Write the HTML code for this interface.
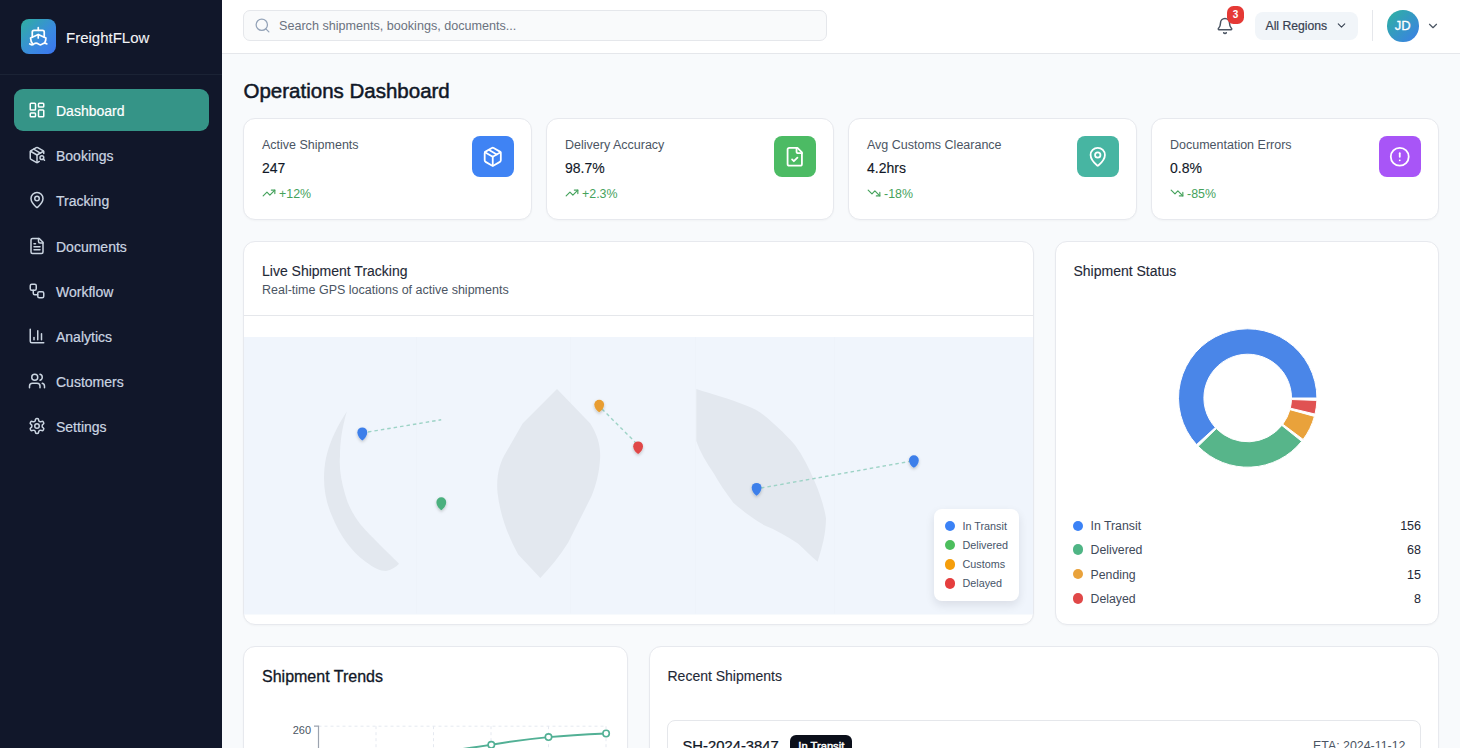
<!DOCTYPE html>
<html><head><meta charset="utf-8">
<style>
*{box-sizing:border-box;margin:0;padding:0}
html,body{width:1460px;height:748px;overflow:hidden}
body{font-family:"Liberation Sans",sans-serif;background:#f8fafc;position:relative;color:#111827}
.abs{position:absolute}
svg.i{fill:none;stroke:currentColor;stroke-width:2;stroke-linecap:round;stroke-linejoin:round}
#side{position:absolute;left:0;top:0;width:222px;height:748px;background:#11172a}
#side .hd{position:absolute;left:0;top:0;width:222px;height:75px;border-bottom:1px solid #1b2335}
.logo{position:absolute;left:20.5px;top:18.5px;width:35.5px;height:35.5px;border-radius:8px;background:linear-gradient(135deg,#2fb0a0 0%,#3a8ae0 60%,#3b74ef 100%)}
.brand{position:absolute;left:66px;top:29px;font-size:15px;line-height:18px;color:#f3f4f6;white-space:nowrap;-webkit-text-stroke:0.1px #f3f4f6}
.nav{position:absolute;left:14px;width:194.5px;height:42px;border-radius:9px;color:#cbd5e1;font-size:14px}
.nav.act{background:#359487;color:#fff}
.nav svg{position:absolute;left:13.5px;top:12px;width:18px;height:18px}
.nav span{position:absolute;left:42px;top:14px;line-height:16px;white-space:nowrap;-webkit-text-stroke:0.2px currentColor}
#top{position:absolute;left:222px;top:0;width:1238px;height:54px;background:#fff;border-bottom:1px solid #e5e7eb}
.search{position:absolute;left:21px;top:10px;width:584px;height:30.5px;border:1px solid #e5e7eb;border-radius:7px;background:#f9fafb}
.search svg{position:absolute;left:10px;top:5.5px;width:17px;height:17px;color:#94a3b8;stroke-width:1.8}
.search span{position:absolute;left:35px;top:8px;font-size:12.6px;line-height:14px;color:#6b7280;white-space:nowrap}
.card{position:absolute;background:#fff;border:1px solid #e7e9ee;border-radius:12px;box-shadow:0 1px 2px rgba(15,23,42,0.03)}
.stat .lbl{position:absolute;left:18px;top:18px;font-size:12.5px;line-height:16px;color:#4b5563;white-space:nowrap}
.stat .val{position:absolute;left:18px;top:40px;font-size:14px;line-height:18px;color:#111827;white-space:nowrap;-webkit-text-stroke:0.12px #111827}
.stat .chg{position:absolute;left:18px;top:67px;font-size:12.4px;line-height:14px;color:#45a25c;white-space:nowrap}
.stat .chg svg{width:14px;height:14px;vertical-align:-2px;margin-right:3px}
.stat .ib{position:absolute;right:17.5px;top:17px;width:41.3px;height:41.3px;border-radius:8px;color:#fff}
.stat .ib svg{position:absolute;left:9.9px;top:9.9px;width:21.5px;height:21.5px}
.ttl{position:absolute;font-size:14px;line-height:16px;color:#1f2937;white-space:nowrap;-webkit-text-stroke:0.12px #1f2937}
.sub{position:absolute;font-size:12.5px;line-height:14px;color:#4b5563;white-space:nowrap}
.lg{position:absolute;font-size:10.8px;color:#475569;white-space:nowrap}
.dot{position:absolute;border-radius:50%}
.lg2{position:absolute;left:34.5px;font-size:12.3px;line-height:16px;color:#3f4a5a;white-space:nowrap}
.vl{position:absolute;right:17px;font-size:12.5px;line-height:16px;color:#1f2937;white-space:nowrap;-webkit-text-stroke:0.05px #1f2937}
</style></head>
<body>
<div id="side">
  <div class="hd">
    <div class="logo">
      <svg class="i" viewBox="0 0 24 24" style="position:absolute;left:7.5px;top:7.5px;width:20.5px;height:20.5px;color:#fff;stroke-width:2">
        <path d="M2 21c.6.5 1.2 1 2.5 1 2.5 0 2.5-2 5-2 1.3 0 1.9.5 2.5 1 .6.5 1.2 1 2.5 1 2.5 0 2.5-2 5-2 1.3 0 1.9.5 2.5 1"/>
        <path d="M19.38 20A11.6 11.6 0 0 0 21 14l-9-4-9 4c0 2.9.94 5.34 2.81 7.76"/>
        <path d="M19 13V7a2 2 0 0 0-2-2H7a2 2 0 0 0-2 2v6"/>
        <path d="M12 10v4"/><path d="M12 2v3"/>
      </svg>
    </div>
    <div class="brand">FreightFLow</div>
  </div>
  <div class="nav act" style="top:89px">
    <svg class="i" viewBox="0 0 24 24"><rect width="7" height="9" x="3" y="3" rx="1"/><rect width="7" height="5" x="14" y="3" rx="1"/><rect width="7" height="9" x="14" y="12" rx="1"/><rect width="7" height="5" x="3" y="16" rx="1"/></svg>
    <span>Dashboard</span>
  </div>
  <div class="nav" style="top:134.2px">
    <svg class="i" viewBox="0 0 24 24"><path d="M21 10V8a2 2 0 0 0-1-1.73l-7-4a2 2 0 0 0-2 0l-7 4A2 2 0 0 0 3 8v8a2 2 0 0 0 1 1.73l7 4a2 2 0 0 0 2 0l2-1.14"/><path d="m7.5 4.27 9 5.15"/><polyline points="3.29 7 12 12 20.71 7"/><line x1="12" x2="12" y1="22" y2="12"/><circle cx="18.5" cy="15.5" r="2.5"/><path d="M20.27 17.27 22 19"/></svg>
    <span>Bookings</span>
  </div>
  <div class="nav" style="top:179.4px">
    <svg class="i" viewBox="0 0 24 24"><path d="M20 10c0 4.993-5.539 10.193-7.399 11.799a1 1 0 0 1-1.202 0C9.539 20.193 4 14.993 4 10a8 8 0 0 1 16 0"/><circle cx="12" cy="10" r="3"/></svg>
    <span>Tracking</span>
  </div>
  <div class="nav" style="top:224.6px">
    <svg class="i" viewBox="0 0 24 24"><path d="M15 2H6a2 2 0 0 0-2 2v16a2 2 0 0 0 2 2h12a2 2 0 0 0 2-2V7Z"/><path d="M14 2v4a2 2 0 0 0 2 2h4"/><path d="M10 9H8"/><path d="M16 13H8"/><path d="M16 17H8"/></svg>
    <span>Documents</span>
  </div>
  <div class="nav" style="top:269.8px">
    <svg class="i" viewBox="0 0 24 24"><rect width="8" height="8" x="3" y="3" rx="2"/><path d="M7 11v4a2 2 0 0 0 2 2h4"/><rect width="8" height="8" x="13" y="13" rx="2"/></svg>
    <span>Workflow</span>
  </div>
  <div class="nav" style="top:315px">
    <svg class="i" viewBox="0 0 24 24"><path d="M3 3v16a2 2 0 0 0 2 2h16"/><path d="M18 17V9"/><path d="M13 17V5"/><path d="M8 17v-3"/></svg>
    <span>Analytics</span>
  </div>
  <div class="nav" style="top:360.2px">
    <svg class="i" viewBox="0 0 24 24"><path d="M16 21v-2a4 4 0 0 0-4-4H6a4 4 0 0 0-4 4v2"/><circle cx="9" cy="7" r="4"/><path d="M22 21v-2a4 4 0 0 0-3-3.87"/><path d="M16 3.13a4 4 0 0 1 0 7.75"/></svg>
    <span>Customers</span>
  </div>
  <div class="nav" style="top:405.4px">
    <svg class="i" viewBox="0 0 24 24"><path d="M12.22 2h-.44a2 2 0 0 0-2 2v.18a2 2 0 0 1-1 1.73l-.43.25a2 2 0 0 1-2 0l-.15-.08a2 2 0 0 0-2.73.73l-.22.38a2 2 0 0 0 .73 2.73l.15.1a2 2 0 0 1 1 1.72v.51a2 2 0 0 1-1 1.74l-.15.09a2 2 0 0 0-.73 2.73l.22.38a2 2 0 0 0 2.730.73l.15-.08a2 2 0 0 1 2 0l.43.25a2 2 0 0 1 1 1.73V20a2 2 0 0 0 2 2h.44a2 2 0 0 0 2-2v-.18a2 2 0 0 1 1-1.73l.43-.25a2 2 0 0 1 2 0l.15.08a2 2 0 0 0 2.73-.73l.22-.39a2 2 0 0 0-.73-2.73l-.15-.08a2 2 0 0 1-1-1.74v-.5a2 2 0 0 1 1-1.74l.15-.09a2 2 0 0 0 .73-2.73l-.22-.38a2 2 0 0 0-2.73-.73l-.15.08a2 2 0 0 1-2 0l-.43-.25a2 2 0 0 1-1-1.73V4a2 2 0 0 0-2-2z"/><circle cx="12" cy="12" r="3"/></svg>
    <span>Settings</span>
  </div>
</div>

<div id="top">
  <div class="search">
    <svg class="i" viewBox="0 0 24 24"><circle cx="11" cy="11" r="8"/><path d="m21 21-4.3-4.3"/></svg>
    <span>Search shipments, bookings, documents...</span>
  </div>
  <svg class="i abs" viewBox="0 0 24 24" style="left:994px;top:16.5px;width:18px;height:18px;color:#4b5563"><path d="M10.268 21a2 2 0 0 0 3.464 0"/><path d="M3.262 15.326A1 1 0 0 0 4 17h16a1 1 0 0 0 .74-1.673C19.41 13.956 18 12.499 18 8A6 6 0 0 0 6 8c0 4.499-1.411 5.956-2.738 7.326"/></svg>
  <div class="abs" style="left:1005px;top:6.3px;width:17.2px;height:17.5px;border-radius:6.5px;background:#e53935;color:#fff;font-size:10px;font-weight:bold;line-height:18.5px;text-align:center">3</div>
  <div class="abs" style="left:1033px;top:12px;width:103px;height:27.5px;border-radius:8px;background:#f1f5f9">
    <span class="abs" style="left:10.5px;top:6.5px;font-size:12.2px;line-height:14px;color:#374151;white-space:nowrap;-webkit-text-stroke:0.2px #374151">All Regions</span>
    <svg class="i abs" viewBox="0 0 24 24" style="left:80px;top:7px;width:13px;height:13px;color:#374151"><path d="m6 9 6 6 6-6"/></svg>
  </div>
  <div class="abs" style="left:1150px;top:9.5px;width:1px;height:31px;background:#e5e7eb"></div>
  <div class="abs" style="left:1165px;top:10px;width:31.5px;height:31.5px;border-radius:50%;background:linear-gradient(135deg,#2eb3a0,#3b7de8);color:#fff;font-size:13px;line-height:31.5px;text-align:center;-webkit-text-stroke:0.3px #fff">JD</div>
  <svg class="i abs" viewBox="0 0 24 24" style="left:1203.5px;top:18.5px;width:14px;height:14px;color:#4b5563"><path d="m6 9 6 6 6-6"/></svg>
</div>

<!-- STAT CARDS -->
<div class="card stat" style="left:243px;top:118px;width:289px;height:102px">
  <div class="lbl">Active Shipments</div><div class="val">247</div>
  <div class="chg"><svg class="i" viewBox="0 0 24 24"><polyline points="22 7 13.5 15.5 8.5 10.5 2 17"/><polyline points="16 7 22 7 22 13"/></svg>+12%</div>
  <div class="ib" style="background:#3f83f4"><svg class="i" viewBox="0 0 24 24"><path d="M11 21.73a2 2 0 0 0 2 0l7-4A2 2 0 0 0 21 16V8a2 2 0 0 0-1-1.730l-7-4a2 2 0 0 0-2 0l-7 4A2 2 0 0 0 3 8v8a2 2 0 0 0 1 1.73z"/><path d="M12 22V12"/><path d="m3.3 7 8.7 5 8.7-5"/><path d="m7.5 4.27 9 5.15"/></svg></div>
</div>
<div class="card stat" style="left:546px;top:118px;width:288px;height:102px">
  <div class="lbl">Delivery Accuracy</div><div class="val">98.7%</div>
  <div class="chg"><svg class="i" viewBox="0 0 24 24"><polyline points="22 7 13.5 15.5 8.5 10.5 2 17"/><polyline points="16 7 22 7 22 13"/></svg>+2.3%</div>
  <div class="ib" style="background:#4cbb64"><svg class="i" viewBox="0 0 24 24"><path d="M15 2H6a2 2 0 0 0-2 2v16a2 2 0 0 0 2 2h12a2 2 0 0 0 2-2V7Z"/><path d="M14 2v4a2 2 0 0 0 2 2h4"/><path d="m9 15 2 2 4-4"/></svg></div>
</div>
<div class="card stat" style="left:848px;top:118px;width:289px;height:102px">
  <div class="lbl">Avg Customs Clearance</div><div class="val">4.2hrs</div>
  <div class="chg"><svg class="i" viewBox="0 0 24 24"><polyline points="22 17 13.5 8.5 8.5 13.5 2 7"/><polyline points="16 17 22 17 22 11"/></svg>-18%</div>
  <div class="ib" style="background:#47b5a2"><svg class="i" viewBox="0 0 24 24"><path d="M20 10c0 4.993-5.539 10.193-7.399 11.799a1 1 0 0 1-1.202 0C9.539 20.193 4 14.993 4 10a8 8 0 0 1 16 0"/><circle cx="12" cy="10" r="3"/></svg></div>
</div>
<div class="card stat" style="left:1151px;top:118px;width:288px;height:102px">
  <div class="lbl">Documentation Errors</div><div class="val">0.8%</div>
  <div class="chg"><svg class="i" viewBox="0 0 24 24"><polyline points="22 17 13.5 8.5 8.5 13.5 2 7"/><polyline points="16 17 22 17 22 11"/></svg>-85%</div>
  <div class="ib" style="background:#a855f7"><svg class="i" viewBox="0 0 24 24"><circle cx="12" cy="12" r="10"/><line x1="12" x2="12" y1="8" y2="12"/><line x1="12" x2="12.01" y1="16" y2="16"/></svg></div>
</div>

<!-- MAIN -->
<div class="abs" style="left:243.5px;top:80px;font-size:20.5px;line-height:22px;color:#111827;white-space:nowrap;-webkit-text-stroke:0.5px #111827">Operations Dashboard</div>


<!-- MAP CARD -->
<div class="card" style="left:243px;top:241px;width:791px;height:384px">
  <div class="ttl" style="left:18px;top:21px">Live Shipment Tracking</div>
  <div class="sub" style="left:18px;top:41px">Real-time GPS locations of active shipments</div>
  <div class="abs" style="left:0;top:73px;width:789px;height:1px;background:#e5e7eb"></div>
</div>
<svg class="abs" style="left:244px;top:337px;width:789px;height:277.5px" viewBox="244 337 789 277.5">
  <defs><filter id="sh" x="-50%" y="-50%" width="200%" height="220%"><feDropShadow dx="0" dy="1.5" stdDeviation="1.5" flood-color="#000" flood-opacity="0.22"/></filter></defs>
  <rect x="244" y="337" width="789" height="277.5" fill="#f0f5fc"/>
  <g stroke="#e6ebf2" stroke-width="1" opacity="0.18">
    <line x1="416.5" y1="337" x2="416.5" y2="613.5"/><line x1="570.5" y1="337" x2="570.5" y2="613.5"/>
    <line x1="695.5" y1="337" x2="695.5" y2="613.5"/><line x1="834.5" y1="337" x2="834.5" y2="613.5"/>
  </g>
  <g fill="#e3e8ef">
    <path d="M346.8 411.4C338 425 330 440 326 458C322 478 324 498 332 516C340 536 352 552 366 562C374 568 380 571 386 571C391 570 396 567 399 563.7C392 557 386 551 380 545C372 537 366 531 361 525C353 515 348 505 345 494C341 480 339 468 340 456C340 442 342 428 346.8 411.4Z"/>
    <path d="M557 389.1L590.3 423.5C598 436 601 447 600 460C599 474 596 485 591.8 495.6L568.2 542.6C560 556 550 568 540.3 578L518.2 554.4C508 536 500 515 497.5 492.6C496 475 500 462 506.5 451.5L522.6 423.5Z"/>
    <path d="M696.3 389C712 394 730 399 747.4 405.9C756 409 765 415 772.6 422.7C782 431 789 438 795.1 445.2C803 456 809 468 814.8 481.7C820 494 824 506 826 518.2C826 533 822 548 817.6 561.7C811 556 805 550 797.9 543.4C787 536 776 530 764.2 525.2C753 519 743 511 733.3 502.7C726 493 719 483 713.7 473.3C706 462 700 452 696.3 441Z"/>
  </g>
  <g stroke="#9dd3c6" stroke-width="1.4" stroke-dasharray="3.5 3" fill="none">
    <line x1="368" y1="432" x2="441.2" y2="419.8"/>
    <line x1="602" y1="409" x2="636" y2="443"/>
    <line x1="761" y1="488" x2="912" y2="461"/>
  </g>
  <path d="M362.30 440.60C359.70 439.00 357.40 435.50 357.40 432.30A4.9 4.9 0 0 1 367.20 432.30C367.20 435.50 364.90 439.00 362.30 440.60Z" fill="#3d7fea" filter="url(#sh)"/>
  <path d="M441.30 510.20C438.70 508.60 436.40 505.30 436.40 502.10A4.9 4.9 0 0 1 446.20 502.10C446.20 505.30 443.90 508.60 441.30 510.20Z" fill="#4bb07e" filter="url(#sh)"/>
  <path d="M599.20 412.30C596.60 410.70 594.30 407.80 594.30 404.60A4.9 4.9 0 0 1 604.10 404.60C604.10 407.80 601.80 410.70 599.20 412.30Z" fill="#e89d30" filter="url(#sh)"/>
  <path d="M638.10 453.90C635.50 452.30 633.20 449.50 633.20 446.30A4.9 4.9 0 0 1 643.00 446.30C643.00 449.50 640.70 452.30 638.10 453.90Z" fill="#e04646" filter="url(#sh)"/>
  <path d="M756.60 495.70C754.00 494.10 751.70 491.00 751.70 487.80A4.9 4.9 0 0 1 761.50 487.80C761.50 491.00 759.20 494.10 756.60 495.70Z" fill="#3d7fea" filter="url(#sh)"/>
  <path d="M913.90 467.80C911.30 466.20 909.00 463.40 909.00 460.20A4.9 4.9 0 0 1 918.80 460.20C918.80 463.40 916.50 466.20 913.90 467.80Z" fill="#3d7fea" filter="url(#sh)"/>
</svg>
<div class="abs" style="left:934.3px;top:509px;width:84.7px;height:92px;background:#fff;border-radius:8px;box-shadow:0 4px 10px rgba(15,23,42,0.10)">
  <div class="dot" style="left:10.3px;top:11.9px;width:10.6px;height:10.6px;background:#3b82f6"></div>
  <div class="dot" style="left:10.3px;top:30.8px;width:10.6px;height:10.6px;background:#4cbe5d"></div>
  <div class="dot" style="left:10.3px;top:50px;width:10.6px;height:10.6px;background:#f59e0b"></div>
  <div class="dot" style="left:10.3px;top:69.2px;width:10.6px;height:10.6px;background:#e53e3e"></div>
  <div class="lg" style="left:28.2px;top:11px">In Transit</div>
  <div class="lg" style="left:28.2px;top:30px">Delivered</div>
  <div class="lg" style="left:28.2px;top:49px">Customs</div>
  <div class="lg" style="left:28.2px;top:68px">Delayed</div>
</div>

<!-- DONUT CARD -->
<div class="card" style="left:1055px;top:241px;width:384px;height:384px">
  <div class="ttl" style="left:17.5px;top:21px">Shipment Status</div>
  <svg class="abs" style="left:-0.5px;top:-1px;width:383px;height:383.5px" viewBox="0 0 383 383.5">
    <g stroke="#fff" stroke-width="1">
    <path d="M260.90 157.00A69.2 69.2 0 1 0 140.53 203.59L159.31 186.49A43.8 43.8 0 1 1 235.50 157.00Z" fill="#4a86e8"/>
    <path d="M142.19 205.34A69.2 69.2 0 0 0 245.65 200.34L225.85 184.43A43.8 43.8 0 0 1 160.36 187.60Z" fill="#57b58a"/>
    <path d="M247.13 198.43A69.2 69.2 0 0 0 258.42 175.38L233.93 168.63A43.8 43.8 0 0 1 226.78 183.22Z" fill="#e9a23b"/>
    <path d="M259.02 173.04A69.2 69.2 0 0 0 260.86 159.42L235.47 158.53A43.8 43.8 0 0 1 234.31 167.15Z" fill="#e05252"/>
    </g>
  </svg>
  <div class="dot" style="left:16.9px;top:278.6px;width:10.2px;height:10.2px;background:#3b82f6"></div>
  <div class="dot" style="left:16.9px;top:302.4px;width:10.2px;height:10.2px;background:#4fb585"></div>
  <div class="dot" style="left:16.9px;top:326.8px;width:10.2px;height:10.2px;background:#e9a23b"></div>
  <div class="dot" style="left:16.9px;top:351.4px;width:10.2px;height:10.2px;background:#e04848"></div>
  <div class="lg2" style="top:276px">In Transit</div><div class="vl" style="top:276px">156</div>
  <div class="lg2" style="top:300px">Delivered</div><div class="vl" style="top:300px">68</div>
  <div class="lg2" style="top:324.5px">Pending</div><div class="vl" style="top:324.5px">15</div>
  <div class="lg2" style="top:349px">Delayed</div><div class="vl" style="top:349px">8</div>
</div>

<!-- TRENDS CARD -->
<div class="card" style="left:243px;top:646px;width:385px;height:200px">
  <div class="abs" style="left:18px;top:21px;font-size:16px;line-height:18px;color:#111827;white-space:nowrap;-webkit-text-stroke:0.3px #111827">Shipment Trends</div>
</div>
<svg class="abs" style="left:243.5px;top:646.3px;width:384px;height:110px" viewBox="243.5 646.3 384 110">
  <g stroke="#e5e9f0" stroke-width="1" stroke-dasharray="3 3" fill="none">
    <line x1="318" y1="726.5" x2="605.5" y2="726.5"/>
    <line x1="375.5" y1="726.5" x2="375.5" y2="760"/><line x1="433" y1="726.5" x2="433" y2="760"/>
    <line x1="490.5" y1="726.5" x2="490.5" y2="760"/><line x1="548" y1="726.5" x2="548" y2="760"/>
    <line x1="605.5" y1="726.5" x2="605.5" y2="760"/>
  </g>
  <path d="M313.5 726.5H318V760" stroke="#9ca3af" stroke-width="1.2" fill="none"/>
  <text x="310.5" y="734" font-size="11" fill="#4b5563" text-anchor="end" font-family="Liberation Sans">260</text>
  <path d="M433 753.2C452 750.7 471 748.2 490.8 745.1C510 741.7 529 739.2 548 737.4C567 735.7 586 734.7 605.6 733.8" stroke="#52b095" stroke-width="1.9" fill="none"/>
  <g fill="#fff" stroke="#52b095" stroke-width="1.6">
    <circle cx="490.8" cy="745.1" r="3.2"/><circle cx="548" cy="737.4" r="3.2"/><circle cx="605.6" cy="733.8" r="3.2"/>
  </g>
</svg>

<!-- RECENT SHIPMENTS -->
<div class="card" style="left:649px;top:646px;width:790px;height:200px">
  <div class="ttl" style="left:17.5px;top:20.5px">Recent Shipments</div>
  <div class="abs" style="left:17px;top:73px;width:754px;height:100px;border:1px solid #e5e7eb;border-radius:8px">
    <div class="abs" style="left:14.5px;top:15.5px;font-size:14.8px;line-height:18px;color:#111827;white-space:nowrap;-webkit-text-stroke:0.25px #111827">SH-2024-3847</div>
    <div class="abs" style="left:122.3px;top:14px;width:62px;height:22px;border-radius:6px;background:#0b0f1a;color:#fff;font-size:11.2px;line-height:22px;text-align:center;white-space:nowrap;-webkit-text-stroke:0.45px #fff">In Transit</div>
    <div class="abs" style="right:14.5px;top:16.5px;font-size:12.4px;line-height:16px;color:#4b5563;white-space:nowrap">ETA: 2024-11-12</div>
  </div>
</div>

</body></html>
